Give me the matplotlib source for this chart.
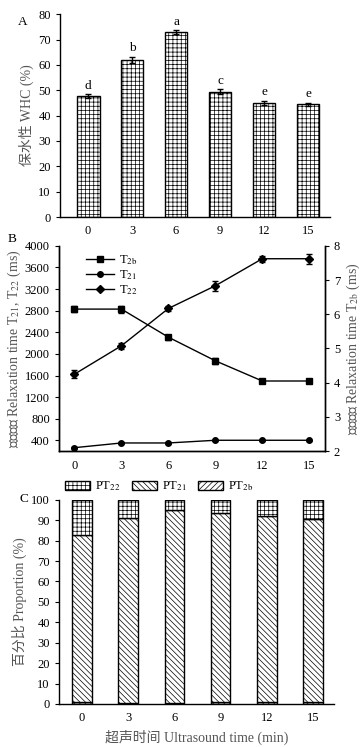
import numpy as np
import matplotlib
matplotlib.use("Agg")
import matplotlib.pyplot as plt
from matplotlib.patches import Patch
from matplotlib.lines import Line2D

plt.rcParams['font.family'] = ['Liberation Serif', 'Noto Sans CJK SC']
plt.rcParams['font.size'] = 9
plt.rcParams['mathtext.fontset'] = 'stix'
plt.rcParams['hatch.linewidth'] = 0.5
plt.rcParams['axes.linewidth'] = 1.0

# Ultrasound time (min)
times = [0, 3, 6, 9, 12, 15]
time_labels = ['0', '3', '6', '9', '12', '15']

# Panel A: water holding capacity
whc = [47.6, 62.0, 73.0, 49.5, 45.0, 44.4]
whc_err = [0.8, 1.2, 0.7, 0.8, 0.8, 0.6]
whc_letters = ['d', 'b', 'a', 'c', 'e', 'e']

# Panel B: relaxation times
t2b = [6.15, 6.15, 5.33, 4.64, 4.05, 4.05]          # ms, right axis
t2b_err = [0.08, 0.10, 0.07, 0.08, 0.06, 0.07]
t21 = [265, 352, 352, 402, 402, 402]                # ms, left axis
t21_err = [10, 10, 10, 8, 8, 8]
t22 = [1625, 2150, 2840, 3260, 3760, 3760]          # ms, left axis
t22_err = [80, 60, 45, 90, 55, 90]

# Panel C: proportions (%)
pt2b = [0.8, 0.7, 0.6, 0.8, 1.0, 1.1]
pt21 = [81.7, 90.3, 94.5, 92.7, 90.8, 89.4]
pt22 = [17.5, 9.0, 4.9, 6.5, 8.2, 9.5]

fig = plt.figure(figsize=(3.61, 7.47), dpi=100)
gray = '#555555'
lab_fs = 10

# ---------- A ----------
axA = fig.add_axes([0.166, 0.7095, 0.748, 0.2715])
x = np.arange(len(times))
axA.bar(x, whc, width=0.52, color='white', edgecolor='black', hatch='++++', linewidth=1.0)
axA.errorbar(x, whc, yerr=whc_err, fmt='none', ecolor='black', capsize=2, elinewidth=1)
for xi, v, e, l in zip(x, whc, whc_err, whc_letters):
    axA.text(xi, v + e + 1.0, l, ha='center', va='bottom', fontsize=9.5)
axA.set_xlim(-0.64, 5.5)
axA.set_ylim(0, 80)
axA.set_yticks(range(0, 81, 10))
axA.set_xticks(x)
axA.set_xticklabels(time_labels)
axA.tick_params(axis='x', length=0, pad=6)
axA.tick_params(axis='y', length=3)
axA.spines[['top', 'right']].set_visible(False)
axA.set_ylabel('保水性 WHC (%)', color=gray, labelpad=3, fontsize=lab_fs)
fig.text(0.05, 0.967, 'A', fontsize=9.5)

# ---------- B ----------
axB = fig.add_axes([0.163, 0.396, 0.737, 0.275])
axB2 = axB.twinx()
axB.errorbar(times, t21, yerr=t21_err, color='black', marker='o', ms=4,
             capsize=2, lw=1, elinewidth=1, zorder=3)
axB.errorbar(times, t22, yerr=t22_err, color='black', marker='D', ms=4,
             capsize=2, lw=1, elinewidth=1, zorder=3)
axB2.errorbar(times, t2b, yerr=t2b_err, color='black', marker='s', ms=4,
              capsize=2, lw=1, elinewidth=1, zorder=3)
axB.set_xlim(-1, 16)
axB.set_ylim(200, 4000)
axB.set_yticks(range(400, 4001, 400))
axB2.set_ylim(2, 8)
axB2.set_yticks(range(2, 9))
axB.set_xticks(times)
axB.set_xticklabels(time_labels)
axB.tick_params(axis='x', length=0, pad=6)
axB.tick_params(axis='y', length=3)
axB2.tick_params(axis='y', length=3)
axB.spines['top'].set_visible(False)
axB2.spines['top'].set_visible(False)
axB.set_ylabel(r'驰豫时间 Relaxation time T$_{\mathrm{21}}$, T$_{\mathrm{22}}$ (ms)',
               color=gray, labelpad=1, fontsize=lab_fs)
axB2.set_ylabel(r'驰豫时间 Relaxation time T$_{\mathrm{2b}}$ (ms)',
                color=gray, labelpad=3, fontsize=lab_fs)
handles = [Line2D([], [], color='black', marker='s', ms=4, lw=1),
           Line2D([], [], color='black', marker='o', ms=4, lw=1),
           Line2D([], [], color='black', marker='D', ms=4, lw=1)]
axB.legend(handles, [r'T$_{\mathrm{2b}}$', r'T$_{\mathrm{21}}$', r'T$_{\mathrm{22}}$'],
           loc='upper left', bbox_to_anchor=(0.06, 1.02), frameon=False,
           handlelength=2.2, labelspacing=0.1, handletextpad=0.4, fontsize=9)
fig.text(0.02, 0.676, 'B', fontsize=9.5)

# ---------- C ----------
axC = fig.add_axes([0.163, 0.0576, 0.762, 0.2734])
xc = np.arange(len(times))
axC.bar(xc, pt2b, width=0.42, color='white', edgecolor='black', hatch='//////', linewidth=1.0)
axC.bar(xc, pt21, bottom=pt2b, width=0.42, color='white', edgecolor='black', hatch='\\\\\\\\\\\\', linewidth=1.0)
bottom22 = [a + b for a, b in zip(pt2b, pt21)]
axC.bar(xc, pt22, bottom=bottom22, width=0.42, color='white', edgecolor='black', hatch='++++', linewidth=1.0)
axC.set_xlim(-0.5, 5.45)
axC.set_ylim(0, 100)
axC.set_yticks(range(0, 101, 10))
axC.set_xticks(xc)
axC.set_xticklabels(time_labels)
axC.tick_params(axis='x', length=0, pad=6)
axC.tick_params(axis='y', length=3)
axC.spines[['top', 'right']].set_visible(False)
axC.set_ylabel('百分比 Proportion (%)', color=gray, labelpad=3, fontsize=lab_fs)
axC.set_xlabel('超声时间 Ultrasound time (min)', color=gray, labelpad=4, fontsize=lab_fs)
leg_handles = [Patch(facecolor='white', edgecolor='black', hatch='++++'),
               Patch(facecolor='white', edgecolor='black', hatch='\\\\\\\\\\\\'),
               Patch(facecolor='white', edgecolor='black', hatch='//////')]
axC.legend(leg_handles, [r'PT$_{\mathrm{22}}$', r'PT$_{\mathrm{21}}$', r'PT$_{\mathrm{2b}}$'],
           loc='lower left', bbox_to_anchor=(0.0, 1.0), ncol=3, frameon=False,
           handlelength=2.0, handleheight=0.8, columnspacing=0.9,
           handletextpad=0.4, borderaxespad=0.1, fontsize=9)
fig.text(0.055, 0.328, 'C', fontsize=9.5)

fig.savefig('out.png', dpi=100)
